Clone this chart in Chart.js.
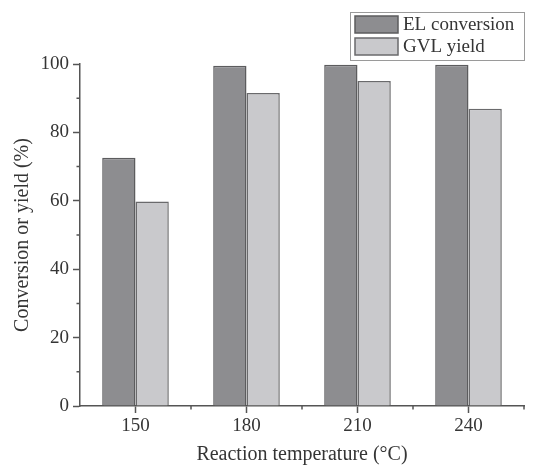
<!DOCTYPE html>
<html>
<head>
<meta charset="utf-8">
<script src="https://cdn.jsdelivr.net/npm/chart.js@4.4.1/dist/chart.umd.min.js"></script>
<style>
  body { margin: 0; background: #fff; }
  #wrap { width: 544px; height: 467px; }
</style>
</head>
<body>
<div id="wrap"><canvas id="chart"></canvas></div>
<script>
var temps = ["150", "180", "210", "240"];
var elConversion = [72.6, 99.5, 99.8, 99.8];
var gvlYield = [59.8, 91.5, 95.0, 86.9];
var minorY = [10, 30, 50, 70, 90];

var fontFam = "'Liberation Serif', 'Times New Roman', serif";
var txt = "#353535";
var axisCol = "#555555";

// small ticks between the labelled ones, and a boxed legend like the original
var extras = {
  id: "extras",
  afterDraw: function(chart) {
    var ctx = chart.ctx;
    var x = chart.scales.x, y = chart.scales.y;
    ctx.save();
    ctx.strokeStyle = axisCol;
    ctx.lineWidth = 1.5;
    ctx.beginPath();
    minorY.forEach(function(v) {
      var py = y.getPixelForValue(v);
      ctx.moveTo(x.left - 3.5, py);
      ctx.lineTo(x.left, py);
    });
    for (var i = 0; i < temps.length; i++) {
      var px = i < temps.length - 1
        ? (x.getPixelForValue(i) + x.getPixelForValue(i + 1)) / 2
        : x.right;
      ctx.moveTo(px, y.bottom);
      ctx.lineTo(px, y.bottom + 3.5);
    }
    ctx.stroke();

    // legend
    var lx = 350, ly = 12, lw = 174, lh = 48;
    ctx.lineWidth = 1;
    ctx.strokeStyle = "#9a9a9a";
    ctx.strokeRect(lx + 0.5, ly + 0.5, lw, lh);
    ctx.font = "19px " + fontFam;
    ctx.textBaseline = "middle";
    chart.data.datasets.forEach(function(ds, k) {
      var sy = ly + 4 + k * 22;
      ctx.fillStyle = ds.backgroundColor;
      ctx.fillRect(lx + 5, sy, 43, 17);
      ctx.strokeStyle = ds.borderColor;
      ctx.lineWidth = 1.5;
      ctx.strokeRect(lx + 5, sy, 43, 17);
      ctx.fillStyle = txt;
      ctx.fillText(ds.label, lx + 53, sy + 9);
    });
    ctx.restore();
  }
};

new Chart(document.getElementById("chart"), {
  type: "bar",
  data: {
    labels: temps,
    datasets: [
      {
        label: "EL conversion",
        data: elConversion,
        backgroundColor: "#8d8d90",
        borderColor: "#5c5c5e",
        borderWidth: 1.5,
        categoryPercentage: 0.6,
        barPercentage: 1.0
      },
      {
        label: "GVL yield",
        data: gvlYield,
        backgroundColor: "#c9c9cc",
        borderColor: "#6a6a6c",
        borderWidth: 1.5,
        categoryPercentage: 0.6,
        barPercentage: 1.0
      }
    ]
  },
  options: {
    responsive: true,
    maintainAspectRatio: false,
    animation: false,
    layout: { padding: { top: 64, right: 20, left: 0, bottom: 0 } },
    plugins: {
      legend: { display: false },
      tooltip: { enabled: false }
    },
    scales: {
      x: {
        offset: true,
        afterFit: function(s) { s.height = 61; },
        grid: {
          offset: false,
          drawOnChartArea: false,
          drawTicks: true,
          tickLength: 7,
          tickColor: axisCol,
          tickWidth: 1.5
        },
        border: { color: axisCol, width: 1.5 },
        ticks: { color: txt, font: { family: fontFam, size: 19 }, padding: 2 },
        title: {
          display: true,
          text: "Reaction temperature (°C)",
          color: txt,
          font: { family: fontFam, size: 20 },
          padding: { top: 3, bottom: 0 }
        }
      },
      y: {
        min: 0,
        max: 100,
        afterFit: function(s) { s.width = 80; },
        grid: {
          drawOnChartArea: false,
          drawTicks: true,
          tickLength: 7,
          tickColor: axisCol,
          tickWidth: 1.5
        },
        border: { color: axisCol, width: 1.5 },
        ticks: { stepSize: 20, color: txt, font: { family: fontFam, size: 19 }, padding: 4 },
        title: {
          display: true,
          text: "Conversion or yield (%)",
          color: txt,
          font: { family: fontFam, size: 20 },
          padding: { top: 11, bottom: 4 }
        }
      }
    }
  },
  plugins: [extras]
});
</script>
</body>
</html>
